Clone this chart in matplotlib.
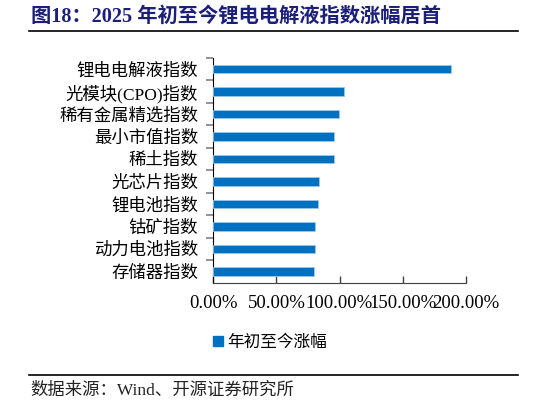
import matplotlib
matplotlib.use("Agg")
import matplotlib.pyplot as plt
from matplotlib.lines import Line2D
from matplotlib.ticker import FuncFormatter

CJK = ["Noto Sans CJK SC", "DejaVu Sans"]
SERIF_CJK = ["Liberation Serif", "Noto Sans CJK SC", "DejaVu Sans"]

# 数据（自上而下）
categories = ["锂电电解液指数", "光模块(CPO)指数", "稀有金属精选指数", "最小市值指数", "稀土指数",
              "光芯片指数", "锂电池指数", "钴矿指数", "动力电池指数", "存储器指数"]
ytd_change = [1.884, 1.037, 0.998, 0.960, 0.958, 0.839, 0.831, 0.804, 0.802, 0.794]
series_name = "年初至今涨幅"
x_ticks = [0.0, 0.5, 1.0, 1.5, 2.0]

title = "图18：2025 年初至今锂电电解液指数涨幅居首"
source = "数据来源：Wind、开源证券研究所"

BAR = "#0070C0"
NAVY = "#1B1F78"

fig = plt.figure(figsize=(5.46, 4.05), dpi=100)
ax = fig.add_axes([0.3907, 0.302, 0.4623, 0.555])

y = list(range(len(categories)))[::-1]
ax.barh(y, ytd_change, height=0.37, color=BAR, edgecolor="#9CC8EA", linewidth=0.6, zorder=3)

ax.set_xlim(0, 2.0)
ax.set_ylim(-0.5, len(categories) - 0.5)
ax.set_xticks(x_ticks)
ax.xaxis.set_major_formatter(FuncFormatter(lambda v, p: f"{v * 100:.2f}%"))
ax.tick_params(axis="x", direction="in", length=5, width=1, color="#404040", pad=9, labelsize=13.5)
for lab in ax.get_xticklabels():
    lab.set_family("Liberation Serif")

# y 轴刻度位于类别之间，刻度标签位于类别中心
ax.set_yticks([i + 0.5 for i in range(len(categories))])
ax.set_yticklabels([])
ax.set_yticks(y, minor=True)
ax.set_yticklabels(categories, minor=True)
ax.tick_params(axis="y", which="major", direction="out", length=5, width=1.2, color="#808080")
ax.tick_params(axis="y", which="minor", length=0, pad=11, labelsize=12.5)
for lab in ax.get_yticklabels(minor=True):
    lab.set_family(SERIF_CJK)

for side in ("top", "right"):
    ax.spines[side].set_visible(False)
ax.spines["left"].set_color("black")
ax.spines["bottom"].set_color("#404040")

# 图例
handle = Line2D([], [], marker="s", linestyle="none", markersize=7, color=BAR)
fig.legend([handle], [series_name], loc="center", bbox_to_anchor=(0.49, 0.155), frameon=False,
           prop={"family": CJK, "size": 12}, handletextpad=0.0, handlelength=1.2)

# 标题与来源
fig.text(0.057, 0.958, title, fontsize=14.6, fontweight="bold", color=NAVY, family=SERIF_CJK,
         ha="left", va="center")
fig.add_artist(Line2D([0.053, 0.949], [0.923, 0.923], color="black", linewidth=1.2))
fig.add_artist(Line2D([0.053, 0.949], [0.074, 0.074], color="black", linewidth=1.2))
fig.text(0.055, 0.035, source, fontsize=12.5, color="#222222", family=SERIF_CJK, ha="left", va="center")

fig.savefig("out.png", dpi=100)
plt.close(fig)
